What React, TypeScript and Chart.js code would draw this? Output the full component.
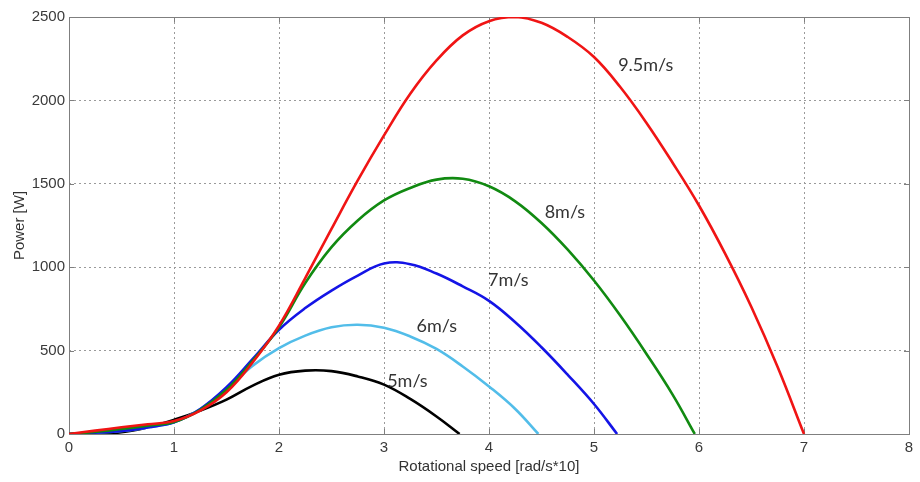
import React, { useEffect, useRef } from "react";
import { Chart, registerables } from "chart.js";

Chart.register(...registerables);

// X ticks and Y ticks
const X_TICKS = [0, 1, 2, 3, 4, 5, 6, 7, 8];
const Y_TICKS = [0, 500, 1000, 1500, 2000, 2500];

// 9.5 m/s (red)
const X_95 = [0, 0.25, 0.5, 0.75, 1, 1.25, 1.5, 1.75, 2, 2.25, 2.5, 2.75, 3, 3.25, 3.5, 3.75, 4, 4.25, 4.5, 4.75, 5, 5.25, 5.5, 5.75, 6, 6.25, 6.5, 6.75, 7];
const P_95 = [0, 20, 40, 58, 78, 140, 250, 430, 650, 935, 1230, 1520, 1790, 2040, 2240, 2390, 2475, 2500, 2465, 2380, 2260, 2080, 1865, 1625, 1370, 1080, 760, 400, 0];

// 8 m/s (green)
const X_8 = [0, 0.25, 0.5, 0.75, 1, 1.25, 1.5, 1.75, 2, 2.25, 2.5, 2.75, 3, 3.25, 3.5, 3.75, 4, 4.25, 4.5, 4.75, 5, 5.25, 5.5, 5.75, 5.96];
const P_8 = [0, 12, 30, 50, 72, 145, 265, 440, 640, 905, 1120, 1280, 1400, 1475, 1525, 1530, 1485, 1395, 1265, 1105, 920, 710, 480, 235, 0];

// 7 m/s (blue)
const X_7 = [0, 0.25, 0.5, 0.75, 1, 1.25, 1.5, 1.75, 2, 2.25, 2.5, 2.75, 3, 3.25, 3.5, 3.75, 4, 4.25, 4.5, 4.75, 5, 5.22];
const P_7 = [0, 8, 18, 40, 70, 150, 280, 450, 625, 755, 860, 950, 1022, 1018, 962, 885, 798, 670, 520, 355, 180, 0];

// 6 m/s (light blue)
const X_6 = [0, 0.25, 0.5, 0.75, 1, 1.25, 1.5, 1.75, 2, 2.25, 2.5, 2.75, 3, 3.25, 3.5, 3.75, 4, 4.25, 4.47];
const P_6 = [0, 8, 18, 40, 70, 150, 270, 410, 515, 590, 640, 655, 637, 585, 510, 405, 285, 150, 0];

// 5 m/s (black)
const X_5 = [0, 0.25, 0.5, 0.75, 1, 1.25, 1.5, 1.75, 2, 2.25, 2.5, 2.75, 3, 3.25, 3.5, 3.72];
const P_5 = [0, 3, 10, 40, 85, 140, 206, 290, 355, 380, 377, 345, 296, 210, 105, 0];

const LABELS = ["9.5m/s", "8m/s", "7m/s", "6m/s", "5m/s"];
const LABEL_X = [5.23, 4.53, 3.99, 3.31, 3.03];
const LABEL_Y = [2213, 1332, 925, 646, 316];

const pts = (xs: number[], ys: number[]) => xs.map((x, i) => ({ x, y: ys[i] }));

const boxPlugin = {
  id: "box",
  beforeDatasetsDraw(chart: any) {
    const { ctx, chartArea: a, scales } = chart;
    ctx.save();
    ctx.strokeStyle = "#7f7f7f";
    ctx.lineWidth = 1;
    ctx.setLineDash([]);
    ctx.strokeRect(a.left + 0.5, a.top + 0.5, a.right - a.left, a.bottom - a.top);
    const t = 5;
    ctx.beginPath();
    X_TICKS.forEach((v) => {
      const px = Math.round(scales.x.getPixelForValue(v)) + 0.5;
      ctx.moveTo(px, a.bottom);
      ctx.lineTo(px, a.bottom - t);
      ctx.moveTo(px, a.top);
      ctx.lineTo(px, a.top + t);
    });
    Y_TICKS.forEach((v) => {
      const py = Math.round(scales.y.getPixelForValue(v)) + 0.5;
      ctx.moveTo(a.left, py);
      ctx.lineTo(a.left + t, py);
      ctx.moveTo(a.right, py);
      ctx.lineTo(a.right - t, py);
    });
    ctx.stroke();
    ctx.restore();
  },
};

const labelPlugin = {
  id: "curveLabels",
  afterDatasetsDraw(chart: any) {
    const { ctx, scales } = chart;
    ctx.save();
    ctx.font = "18px Lato, 'Open Sans', sans-serif";
    ctx.fillStyle = "#333333";
    ctx.textAlign = "left";
    ctx.textBaseline = "middle";
    LABELS.forEach((s, i) => {
      ctx.fillText(s, scales.x.getPixelForValue(LABEL_X[i]), scales.y.getPixelForValue(LABEL_Y[i]));
    });
    ctx.restore();
  },
};

export default function App() {
  const ref = useRef<HTMLCanvasElement | null>(null);
  useEffect(() => {
    if (!ref.current) return;
    const mk = (label: string, xs: number[], ys: number[], color: string) => ({
      label,
      data: pts(xs, ys),
      borderColor: color,
      backgroundColor: color,
      borderWidth: 2.6,
      pointRadius: 0,
      tension: 0.4,
      fill: false,
    });
    const tickFont = { family: "'Liberation Sans', Arial, sans-serif", size: 15 };
    const chart = new Chart(ref.current, {
      type: "line",
      data: {
        datasets: [
          mk("9.5m/s", X_95, P_95, "#f01414"),
          mk("8m/s", X_8, P_8, "#118a11"),
          mk("7m/s", X_7, P_7, "#1414e6"),
          mk("6m/s", X_6, P_6, "#52bde9"),
          mk("5m/s", X_5, P_5, "#000000"),
        ],
      },
      options: {
        animation: false,
        responsive: false,
        maintainAspectRatio: false,
        layout: { padding: { left: 0, right: 11, top: 17, bottom: 0 } },
        plugins: { legend: { display: false }, tooltip: { enabled: false } },
        scales: {
          x: {
            type: "linear",
            min: 0,
            max: 8,
            afterFit: (s: any) => { s.height = 48; },
            afterBuildTicks: (s: any) => { s.ticks = X_TICKS.map((v) => ({ value: v })); },
            ticks: { color: "#3a3a3a", font: tickFont, padding: 5, callback: (v: any) => String(v) },
            grid: { color: "#9a9a9a", lineWidth: 1, drawTicks: false, tickLength: 0 },
            border: { display: false, dash: [2, 3] },
            title: {
              display: true,
              text: "Rotational speed [rad/s*10]",
              color: "#333333",
              font: tickFont,
              padding: { top: 0, bottom: 6 },
            },
          },
          y: {
            type: "linear",
            min: 0,
            max: 2500,
            afterFit: (s: any) => { s.width = 69; },
            afterBuildTicks: (s: any) => { s.ticks = Y_TICKS.map((v) => ({ value: v })); },
            ticks: { color: "#3a3a3a", font: tickFont, padding: 4, callback: (v: any) => String(v) },
            grid: { color: "#9a9a9a", lineWidth: 1, drawTicks: false, tickLength: 0 },
            border: { display: false, dash: [2, 3] },
            title: {
              display: true,
              text: "Power [W]",
              color: "#333333",
              font: tickFont,
              padding: { top: 11, bottom: 0 },
            },
          },
        },
      },
      plugins: [boxPlugin, labelPlugin],
    } as any);
    return () => chart.destroy();
  }, []);
  return (
    <div style={{ position: "fixed", left: 0, top: 0, width: 920, height: 482, background: "#fff" }}>
      <canvas ref={ref} width={920} height={482} style={{ width: 920, height: 482 }} />
    </div>
  );
}
